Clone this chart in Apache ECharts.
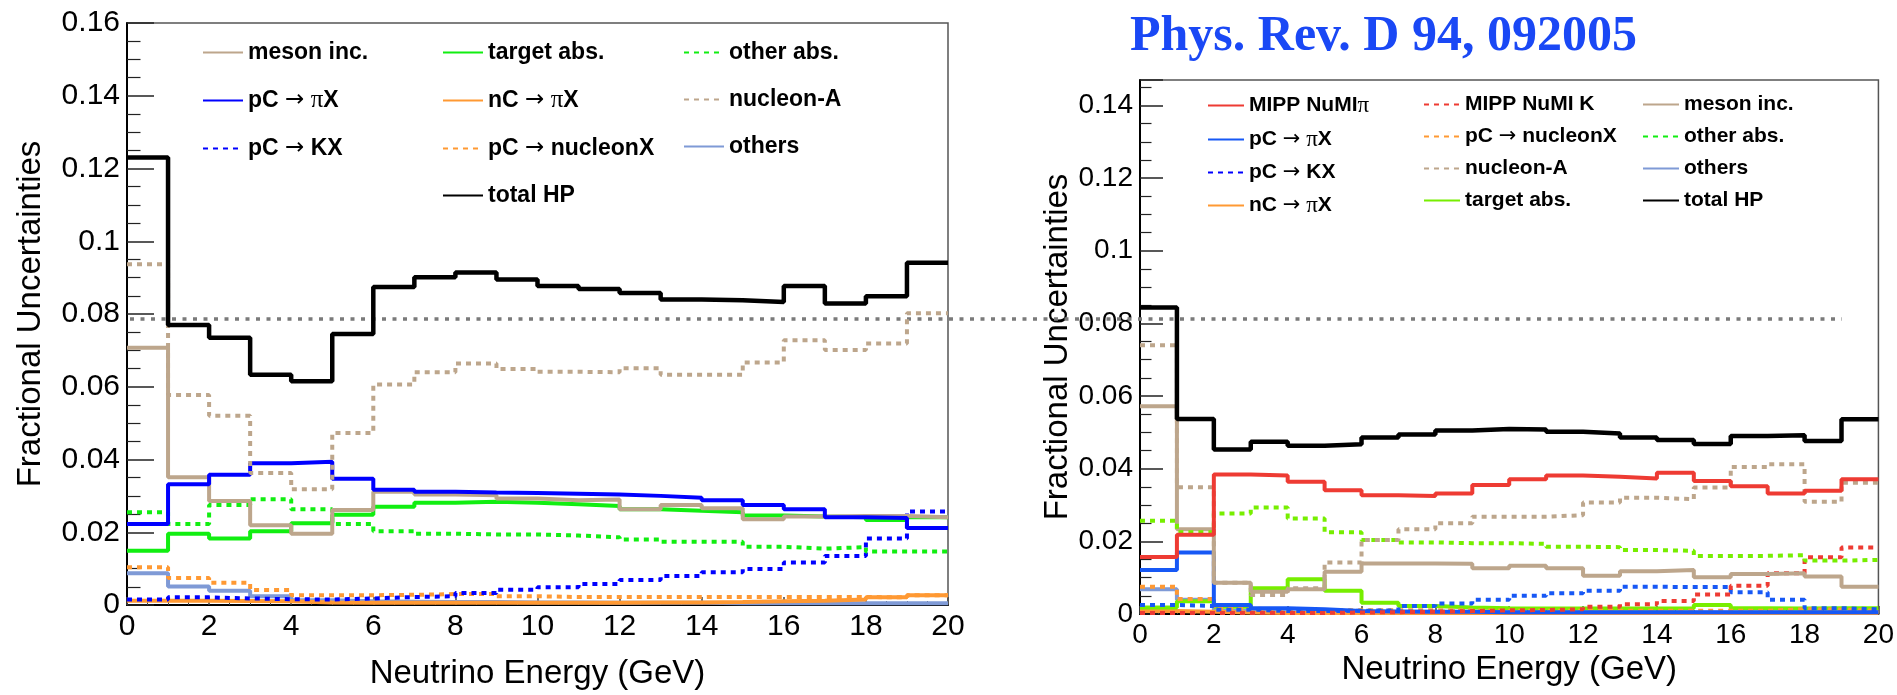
<!DOCTYPE html>
<html>
<head>
<meta charset="utf-8">
<script src="https://cdn.jsdelivr.net/npm/echarts@6.0.0/dist/echarts.min.js"></script>
<style>
  html, body { margin: 0; padding: 0; background: #fff; }
  #chart { width: 1897px; height: 695px; }
</style>
</head>
<body>
<div id="chart"></div>
<script>
// bin edges in GeV (1 GeV bins)
const binEdges = [0, 1, 2, 3, 4, 5, 6, 7, 8, 9, 10, 11, 12, 13, 14, 15, 16, 17, 18, 19, 20];
const yTicksLeft = [0, 0.02, 0.04, 0.06, 0.08, 0.1, 0.12, 0.14, 0.16];
const guideLevel = 0.08;

// left panel
const leftTotalHP = [0.123, 0.077, 0.0735, 0.0633, 0.0615, 0.0745, 0.0874, 0.0901, 0.0914, 0.0895, 0.0877, 0.0869, 0.0858, 0.084, 0.0838, 0.0833, 0.0877, 0.0829, 0.0849, 0.0941];
const leftMesonInc = [0.0707, 0.0351, 0.0286, 0.0219, 0.0196, 0.0261, 0.0311, 0.0304, 0.0302, 0.0293, 0.0288, 0.029, 0.0263, 0.0275, 0.0266, 0.0236, 0.0243, 0.0245, 0.0245, 0.0241];
const leftPiX = [0.0223, 0.0332, 0.0358, 0.039, 0.0394, 0.0347, 0.0317, 0.0311, 0.0309, 0.0308, 0.0306, 0.0304, 0.03, 0.0295, 0.0288, 0.0275, 0.0263, 0.0241, 0.0239, 0.0212];
const leftKX = [0.0015, 0.0021, 0.0018, 0.0016, 0.0015, 0.0018, 0.0022, 0.0024, 0.0033, 0.0042, 0.0049, 0.0058, 0.0069, 0.008, 0.009, 0.0099, 0.0117, 0.0135, 0.0183, 0.0257];
const leftTargetAbs = [0.0149, 0.0196, 0.0183, 0.0203, 0.0225, 0.0248, 0.027, 0.0281, 0.0284, 0.0281, 0.0277, 0.0272, 0.0263, 0.0259, 0.0255, 0.0246, 0.0243, 0.0241, 0.0234, 0.0241];
const leftNCPiX = [0.0012, 0.0012, 0.0011, 0.001, 0.0007, 0.0006, 0.0006, 0.0006, 0.0006, 0.0006, 0.0006, 0.0006, 0.0007, 0.0007, 0.0008, 0.001, 0.0012, 0.0015, 0.0021, 0.0027];
const leftNucleonX = [0.0104, 0.0074, 0.0061, 0.0041, 0.0027, 0.0027, 0.0028, 0.003, 0.003, 0.0024, 0.0022, 0.0022, 0.0022, 0.0022, 0.0022, 0.0022, 0.0022, 0.0022, 0.0021, 0.0027];
const leftOtherAbs = [0.0255, 0.0223, 0.0275, 0.0291, 0.0263, 0.0223, 0.0203, 0.0196, 0.0194, 0.0194, 0.0191, 0.0186, 0.018, 0.0174, 0.0174, 0.016, 0.0155, 0.0159, 0.0147, 0.0147];
const leftNucleonA = [0.0937, 0.0577, 0.052, 0.0363, 0.0318, 0.0473, 0.0606, 0.064, 0.0664, 0.0649, 0.0641, 0.064, 0.0651, 0.0633, 0.0633, 0.0667, 0.0728, 0.0701, 0.0719, 0.0802];
const leftOthers = [0.0087, 0.0051, 0.0039, 0.0024, 0.0013, 0.001, 0.0009, 0.0008, 0.0008, 0.0007, 0.0007, 0.0006, 0.0006, 0.0006, 0.0005, 0.0005, 0.0005, 0.0005, 0.0005, 0.0005];

// right panel
const rightTotalHP = [0.0844, 0.0537, 0.0453, 0.0474, 0.0463, 0.0467, 0.0486, 0.0494, 0.0505, 0.0509, 0.0508, 0.0502, 0.0497, 0.0486, 0.0479, 0.0468, 0.049, 0.0492, 0.0476, 0.0536];
const rightMippPi = [0.0157, 0.0218, 0.0384, 0.0381, 0.0364, 0.0341, 0.0327, 0.0325, 0.0332, 0.0355, 0.0371, 0.0381, 0.0378, 0.0373, 0.0389, 0.0366, 0.0352, 0.0332, 0.0339, 0.0371];
const rightMippK = [0.0003, 0.0003, 0.0003, 0.0003, 0.0003, 0.0004, 0.0005, 0.0006, 0.0008, 0.001, 0.0011, 0.0013, 0.002, 0.0027, 0.0036, 0.0054, 0.0078, 0.0112, 0.0156, 0.0183];
const rightMesonInc = [0.0572, 0.0233, 0.0086, 0.0061, 0.0068, 0.0116, 0.0139, 0.0139, 0.0138, 0.0126, 0.0133, 0.0126, 0.0105, 0.0118, 0.0121, 0.0101, 0.011, 0.0112, 0.0103, 0.0075];
const rightPiX = [0.0121, 0.0169, 0.0025, 0.0016, 0.0013, 0.0008, 0.0007, 0.0006, 0.0006, 0.0005, 0.0005, 0.0005, 0.0005, 0.0005, 0.0005, 0.0005, 0.0005, 0.0005, 0.0005, 0.0005];
const rightNucleonX = [0.0075, 0.0041, 0.0015, 0.0011, 0.001, 0.001, 0.001, 0.001, 0.001, 0.0009, 0.0009, 0.0009, 0.0009, 0.0009, 0.0009, 0.0009, 0.0009, 0.0013, 0.0012, 0.0009];
const rightOtherAbs = [0.0257, 0.0225, 0.0277, 0.0293, 0.0263, 0.0225, 0.0204, 0.0197, 0.0195, 0.0195, 0.0193, 0.0185, 0.0184, 0.0176, 0.0174, 0.016, 0.016, 0.0162, 0.0147, 0.0149];
const rightKX = [0.0025, 0.0022, 0.0012, 0.0008, 0.0008, 0.0009, 0.001, 0.0022, 0.0029, 0.0039, 0.005, 0.0057, 0.0064, 0.0075, 0.0074, 0.0074, 0.006, 0.0039, 0.0016, 0.0013];
const rightNucleonA = [0.074, 0.0349, 0.0086, 0.0052, 0.0071, 0.0142, 0.0204, 0.0233, 0.025, 0.0268, 0.0268, 0.0272, 0.0307, 0.032, 0.0316, 0.0348, 0.0405, 0.0412, 0.0309, 0.0361];
const rightOthers = [0.0068, 0.0039, 0.0009, 0.0005, 0.0004, 0.0004, 0.0004, 0.0004, 0.0004, 0.0004, 0.0004, 0.0004, 0.0004, 0.0004, 0.0004, 0.0004, 0.0004, 0.0004, 0.0004, 0.0004];
const rightNCPiX = [0.0008, 0.0006, 0.0004, 0.0003, 0.0003, 0.0003, 0.0003, 0.0003, 0.0003, 0.0003, 0.0003, 0.0003, 0.0003, 0.0003, 0.0003, 0.0003, 0.0003, 0.0003, 0.0003, 0.0003];
const rightTargetAbs = [0.0018, 0.0035, 0.002, 0.0071, 0.0096, 0.0064, 0.0031, 0.0022, 0.0018, 0.0016, 0.0015, 0.0015, 0.0015, 0.0015, 0.0016, 0.0025, 0.0016, 0.0015, 0.0016, 0.0016];

const FONT = "'Liberation Sans', Arial, sans-serif";
const TAN = "#bda68c";
const ORANGE = "#ff9933";
const LIGHTBLUE = "#7f9ad6";
const DOTS = [5, 5];

// histogram -> step points along bin edges
function steps(values) {
  const pts = values.map((v, i) => [binEdges[i], v]);
  pts.push([binEdges[values.length], values[values.length - 1]]);
  return pts;
}

function hist(name, values, color, dotted, panel, width) {
  return {
    name: name,
    type: "line",
    step: "end",
    xAxisIndex: panel,
    yAxisIndex: panel,
    data: steps(values),
    symbol: "none",
    silent: true,
    animation: false,
    itemStyle: { color: color },
    lineStyle: { color: color, width: width || 4, type: dotted ? DOTS : "solid" },
  };
}

const PIX = "pC \u2192 \u03c0X";
const KX = "pC \u2192 KX";
const NCPIX = "nC \u2192 \u03c0X";
const NUCX = "pC \u2192 nucleonX";

function xAxisFor(panel, fontSize, gap) {
  return {
    type: "value",
    gridIndex: panel,
    min: 0,
    max: 20,
    interval: 2,
    name: "Neutrino Energy (GeV)",
    nameLocation: "middle",
    nameGap: gap,
    nameTextStyle: { fontSize: 33, fontFamily: FONT, color: "#000" },
    axisLine: { onZero: false, lineStyle: { color: "#000", width: 2 } },
    axisTick: { inside: true, length: 8, lineStyle: { color: "#444", width: 1.5 } },
    minorTick: { show: true, splitNumber: 4, length: 4, lineStyle: { color: "#444", width: 1 } },
    axisLabel: { fontSize: fontSize, fontFamily: FONT, color: "#000", margin: 7 },
    splitLine: { show: false },
  };
}

function yAxisFor(panel, max, fontSize, gap, tickLen) {
  return {
    type: "value",
    gridIndex: panel,
    min: 0,
    max: max,
    interval: 0.02,
    name: "Fractional Uncertainties",
    nameLocation: "middle",
    nameGap: gap,
    nameTextStyle: { fontSize: 33, fontFamily: FONT, color: "#000" },
    axisLine: { lineStyle: { color: "#000", width: 2 } },
    axisTick: { inside: true, length: tickLen, lineStyle: { color: "#222", width: 1.5 } },
    minorTick: { show: true, splitNumber: 4, length: tickLen / 2, lineStyle: { color: "#222", width: 1.2 } },
    axisLabel: { fontSize: fontSize, fontFamily: FONT, color: "#000", margin: 7, showMaxLabel: max === yTicksLeft[yTicksLeft.length - 1] },
    splitLine: { show: false },
  };
}

// arrow and pi drawn in thin faces like the original symbol font
function legendText(name) {
  return name.replace(/\u2192/g, "{a|\u2192}").replace(/\u03c0/g, "{p|\u03c0}");
}

function legendCol(left, top, gap, fontSize, iconW, names) {
  return {
    orient: "vertical",
    left: left,
    top: top,
    itemGap: gap,
    itemWidth: iconW,
    itemHeight: 14,
    selectedMode: false,
    padding: 0,
    itemStyle: { opacity: 0 },
    formatter: legendText,
    textStyle: {
      fontSize: fontSize,
      lineHeight: fontSize,
      fontWeight: "bold",
      fontFamily: FONT,
      color: "#000",
      rich: {
        a: { fontSize: fontSize, lineHeight: fontSize, fontFamily: "'DejaVu Sans', sans-serif", fontWeight: "normal", color: "#000" },
        p: { fontSize: fontSize + 2, lineHeight: fontSize, fontFamily: "'Liberation Serif', serif", fontWeight: "normal", color: "#000" },
      },
    },
    data: names,
  };
}

const chart = echarts.init(document.getElementById("chart"));

const option = {
  backgroundColor: "#fff",
  animation: false,
  title: {
    text: "Phys. Rev. D 94, 092005",
    left: 1130,
    top: 12,
    padding: 0,
    textStyle: { fontFamily: "'Liberation Serif', serif", fontSize: 50, fontWeight: "bold", color: "#1a48f5" },
  },
  grid: [
    { left: 127, right: 949, top: 23, bottom: 80, show: true, borderColor: "#555", borderWidth: 1.5 },
    { left: 1140, right: 17, top: 80, bottom: 81, show: true, borderColor: "#555", borderWidth: 1.5 },
    // overlay for the grey reference line across both panels
    { left: 130, right: 55, top: 23, bottom: 80, show: false },
  ],
  xAxis: [
    xAxisFor(0, 30, 52),
    xAxisFor(1, 28, 27),
    { type: "value", gridIndex: 2, min: 0, max: 1, show: false },
  ],
  yAxis: [
    yAxisFor(0, 0.16, 30, 80, 27),
    yAxisFor(1, 0.147, 28, 65, 23),
    { type: "value", gridIndex: 2, min: 0, max: 0.16, show: false },
  ],
  legend: [
    legendCol(202, 41, 24, 23, 40, ["meson inc.", PIX, KX]),
    legendCol(442, 41, 24, 23, 40, ["target abs.", NCPIX, NUCX, "total HP"]),
    legendCol(683, 41, 24, 23, 40, ["other abs.", "nucleon-A", "others"]),
    legendCol(1207, 94, 11, 21, 36, [
      "MIPP NuMI\u03c0",
      { name: PIX, lineStyle: { color: "#1758f5" } },
      KX,
      NCPIX,
    ]),
    legendCol(1423, 94, 11, 21, 36, [
      "MIPP NuMI K",
      NUCX,
      "nucleon-A",
      { name: "target abs.", lineStyle: { color: "#77ee00" } },
    ]),
    legendCol(1642, 94, 11, 21, 36, ["meson inc.", "other abs.", "others", "total HP"]),
  ],
  series: [
    // left panel
    hist("others", leftOthers, LIGHTBLUE, false, 0),
    hist(NCPIX, leftNCPiX, ORANGE, false, 0),
    hist(NUCX, leftNucleonX, ORANGE, true, 0),
    hist(KX, leftKX, "#0000ff", true, 0),
    hist("other abs.", leftOtherAbs, "#11ee11", true, 0),
    hist("target abs.", leftTargetAbs, "#11ee11", false, 0),
    hist("meson inc.", leftMesonInc, TAN, false, 0),
    hist(PIX, leftPiX, "#0000ff", false, 0),
    hist("nucleon-A", leftNucleonA, TAN, true, 0),
    hist("total HP", leftTotalHP, "#000", false, 0, 4.5),
    // right panel
    hist("others", rightOthers, LIGHTBLUE, false, 1),
    hist(NCPIX, rightNCPiX, ORANGE, false, 1),
    hist("target abs.", rightTargetAbs, "#77ee00", false, 1),
    hist(NUCX, rightNucleonX, ORANGE, true, 1),
    hist(PIX, rightPiX, "#1758f5", false, 1),
    hist(KX, rightKX, "#1758f5", true, 1),
    hist("MIPP NuMI K", rightMippK, "#ee3b33", true, 1),
    hist("meson inc.", rightMesonInc, TAN, false, 1),
    hist("other abs.", rightOtherAbs, "#77ee00", true, 1),
    hist("nucleon-A", rightNucleonA, TAN, true, 1),
    hist("MIPP NuMI\u03c0", rightMippPi, "#ee3b33", false, 1),
    hist("total HP", rightTotalHP, "#000", false, 1, 4.5),
    // grey dotted reference level
    {
      name: "level",
      type: "line",
      xAxisIndex: 2,
      yAxisIndex: 2,
      data: [[0, guideLevel], [1, guideLevel]],
      symbol: "none",
      silent: true,
      z: 1,
      lineStyle: { color: "#7a7a7a", width: 3.5, type: [4, 6.5] },
    },
  ],
};

chart.setOption(option);
window.addEventListener("resize", () => chart.resize());
</script>
</body>
</html>
